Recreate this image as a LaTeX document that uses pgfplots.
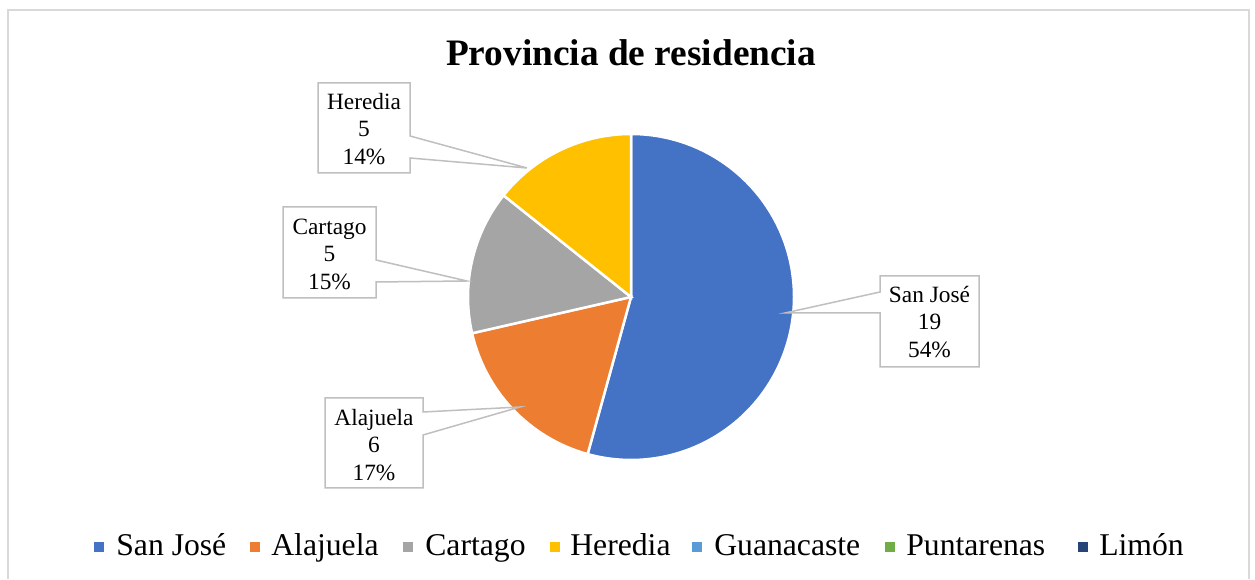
\documentclass[border=0pt]{standalone}
\usepackage{pgfplots}
\usepackage{pgfplotstable}
\pgfplotsset{compat=1.18}
\usepackage{fontspec}
\setmainfont{Liberation Serif}

\definecolor{cSJ}{HTML}{4472C4}
\definecolor{cAL}{HTML}{ED7D31}
\definecolor{cCA}{HTML}{A5A5A5}
\definecolor{cHE}{HTML}{FFC000}
\definecolor{cGU}{HTML}{5B9BD5}
\definecolor{cPU}{HTML}{70AD47}
\definecolor{cLI}{HTML}{264478}
\definecolor{frame}{HTML}{D9D9D9}
\definecolor{callout}{HTML}{BFBFBF}

% values per province
\pgfplotstableread{
name value
SanJose 19
Alajuela 6
Cartago 5
Heredia 5
Guanacaste 0
Puntarenas 0
Limon 0
}\datatable
\pgfplotstablegetelem{0}{value}\of\datatable \let\vA\pgfplotsretval
\pgfplotstablegetelem{1}{value}\of\datatable \let\vB\pgfplotsretval
\pgfplotstablegetelem{2}{value}\of\datatable \let\vC\pgfplotsretval
\pgfplotstablegetelem{3}{value}\of\datatable \let\vD\pgfplotsretval
\pgfmathsetmacro\total{\vA+\vB+\vC+\vD}
\pgfmathsetmacro\aA{90}
\pgfmathsetmacro\aB{\aA-360*\vA/\total}
\pgfmathsetmacro\aC{\aB-360*\vB/\total}
\pgfmathsetmacro\aD{\aC-360*\vC/\total}
\pgfmathsetmacro\aE{\aD-360*\vD/\total}
\def\R{97.8pt}

\begin{document}
\begin{tikzpicture}[
    callbox/.style={draw=callout, line width=0.9pt, fill=white},
    lab/.style={font=\fontsize{14}{16.5}\selectfont, align=center, anchor=center},
]
\begin{axis}[
    scale only axis,
    width=753pt, height=347.4pt,
    xmin=0, xmax=1255, ymin=0, ymax=579,
    hide axis, clip=false,
]
\path (axis cs:0,0) (axis cs:1255,579);
% chart frame
\draw[frame, line width=0.8pt] (axis cs:8,0) -- (axis cs:8,569) -- (axis cs:1249,569) -- (axis cs:1249,0);

% title
\node[font=\fontsize{22.4}{26}\selectfont\bfseries, anchor=base] at (axis cs:631,513) {Provincia de residencia};

% slices
\fill[cSJ, draw=white, line width=1.5pt] (axis cs:631,282) -- ++(\aA:\R) arc[start angle=\aA, end angle=\aB, radius=\R] -- cycle;
\fill[cAL, draw=white, line width=1.5pt] (axis cs:631,282) -- ++(\aB:\R) arc[start angle=\aB, end angle=\aC, radius=\R] -- cycle;
\fill[cCA, draw=white, line width=1.5pt] (axis cs:631,282) -- ++(\aC:\R) arc[start angle=\aC, end angle=\aD, radius=\R] -- cycle;
\fill[cHE, draw=white, line width=1.5pt] (axis cs:631,282) -- ++(\aD:\R) arc[start angle=\aD, end angle=\aE, radius=\R] -- cycle;

% data label callouts
\draw[callbox] (axis cs:318,496) -- (axis cs:410,496) -- (axis cs:410,443) -- (axis cs:527,411) -- (axis cs:410,421) -- (axis cs:410,406) -- (axis cs:318,406) -- cycle;
\node[lab] at (axis cs:364,450) {Heredia\\5\\14\%};

\draw[callbox] (axis cs:283,372) -- (axis cs:376,372) -- (axis cs:376,319) -- (axis cs:467,298) -- (axis cs:376,297) -- (axis cs:376,281) -- (axis cs:283,281) -- cycle;
\node[lab] at (axis cs:329.5,325) {Cartago\\5\\15\%};

\draw[callbox] (axis cs:325,181) -- (axis cs:423,181) -- (axis cs:423,167) -- (axis cs:520,172) -- (axis cs:423,144) -- (axis cs:423,91) -- (axis cs:325,91) -- cycle;
\node[lab] at (axis cs:374,134) {Alajuela\\6\\17\%};

\draw[callbox] (axis cs:880,303) -- (axis cs:979,303) -- (axis cs:979,212) -- (axis cs:880,212) -- (axis cs:880,266) -- (axis cs:785,266) -- (axis cs:880,287) -- cycle;
\node[lab] at (axis cs:929.5,257) {San José\\19\\54\%};

% legend
\foreach \mx/\tx/\col/\txt in {94/116/cSJ/San José, 250/271/cAL/Alajuela, 403/425/cCA/Cartago, 550/570/cHE/Heredia, 692/714/cGU/Guanacaste, 885/906/cPU/Puntarenas, 1078/1099/cLI/Limón}{
  \edef\tmp{\noexpand\fill[\col] (axis cs:\mx,27) rectangle (axis cs:\mx+10,37);
    \noexpand\node[font=\noexpand\fontsize{19}{22}\noexpand\selectfont, anchor=base west, inner sep=0pt] at (axis cs:\tx,23) {\txt};}
  \tmp
}
\end{axis}
\end{tikzpicture}
\end{document}
